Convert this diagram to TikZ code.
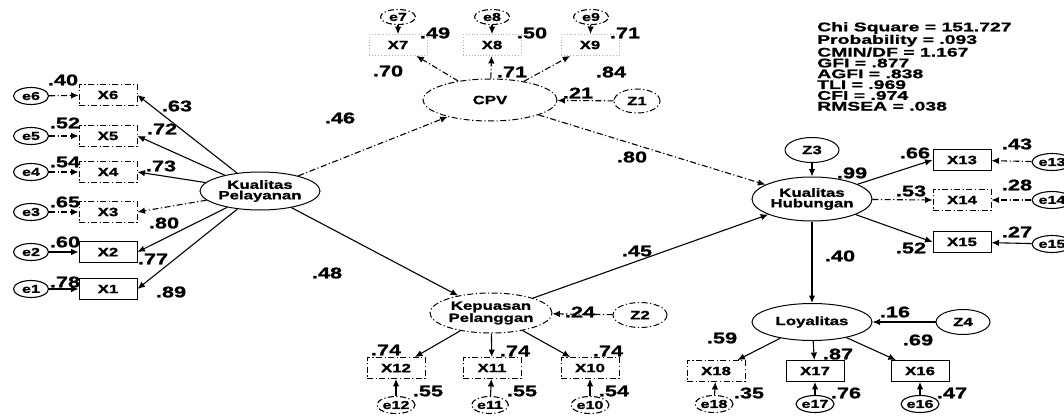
\documentclass[tikz,border=0pt]{standalone}
\usepackage{fontspec}
\setmainfont{Liberation Sans}[FakeStretch=1.4, BoldFeatures={FakeBold=1.2}]
\newfontfamily\statfont{Liberation Sans}[FakeStretch=1.55, BoldFeatures={FakeBold=1.2}]
\usetikzlibrary{arrows.meta,shapes.geometric}

\begin{document}
\begin{tikzpicture}[x=1pt,y=-1pt,
  every node/.style={inner sep=0pt},
  arr/.style={line width=1.1pt,-{Latex[length=7.5pt,width=6.5pt]}},
  faint/.style={dash pattern=on 6pt off 2.5pt on 1.2pt off 2.5pt},
  val/.style={font=\fontsize{15.5}{15.5}\selectfont\bfseries},
  obs/.style={draw,line width=0.9pt,minimum width=58pt,minimum height=21pt,
    font=\fontsize{12}{12}\selectfont\bfseries},
  lat/.style={draw,ellipse,line width=1pt,minimum width=120pt,minimum height=40pt,
    align=center,font=\fontsize{12}{10.5}\selectfont\bfseries},
  err/.style={draw,ellipse,line width=1.1pt,minimum width=35pt,minimum height=17pt,
    font=\fontsize{11.5}{11.5}\selectfont\bfseries},
  res/.style={draw,ellipse,line width=1pt,minimum width=54pt,minimum height=25pt,
    font=\fontsize{12}{12}\selectfont\bfseries},
]
\fill[white] (0,0) rectangle (1064,417);
\useasboundingbox (0,0) rectangle (1064,417);
\clip (0,0) rectangle (1064,417);

% ---------- Kualitas Pelayanan and its indicators ----------
\node[lat,minimum height=38pt] (KP) at (260,191) {Kualitas\\Pelayanan};

\node[obs,faint] (X6) at (108,95)  {X6};
\node[obs,faint] (X5) at (108,136) {X5};
\node[obs,faint] (X4) at (108,172) {X4};
\node[obs,faint] (X3) at (108,212) {X3};
\node[obs] (X2) at (108,252) {X2};
\node[obs] (X1) at (108,289) {X1};

\node[err] (e6) at (31,96)  {e6};
\node[err] (e5) at (31,136) {e5};
\node[err] (e4) at (31,172) {e4};
\node[err] (e3) at (31,212) {e3};
\node[err] (e2) at (31,252) {e2};
\node[err] (e1) at (31,289) {e1};

\draw[arr,faint] (e6) -- (X6);
\draw[arr,faint] (e5) -- (X5);
\draw[arr,faint] (e4) -- (X4);
\draw[arr,faint] (e3) -- (X3);
\draw[arr] (e2) -- (X2);
\draw[arr] (e1) -- (X1);

\draw[arr] (KP) -- (X6.east);
\draw[arr] (KP) -- (X5.east);
\draw[arr] (KP) -- (X4.east);
\draw[arr,faint] (KP) -- (X3.east);
\draw[arr] (KP) -- (X2.east);
\draw[arr] (KP) -- (X1.east);

\node[val] (v40) at (63,80)  {.40};
\node[val] (v52) at (65,123) {.52};
\node[val] (v54) at (65,162) {.54};
\node[val] (v65) at (65,202) {.65};
\node[val] (v60) at (65,242) {.60};
\node[val] (v78) at (65,282) {.78};

\node[val] (l63) at (177,106) {.63};
\node[val] (l72) at (162,129) {.72};
\node[val] (l73) at (161,166) {.73};
\node[val] (l80) at (164,223) {.80};
\node[val] (l77) at (153,259) {.77};
\node[val] (l89) at (171,292) {.89};

% ---------- CPV and its indicators ----------
\node[lat,faint,minimum width=134pt,minimum height=42pt] (CPV) at (490,100) {CPV};

\node[obs,draw=black!30,dotted] (X7) at (398,45) {X7};
\node[obs,draw=black!30,dotted] (X8) at (492,45) {X8};
\node[obs,draw=black!30,dotted] (X9) at (590,45) {X9};

\node[err,faint,minimum height=15pt] (e7) at (398,17) {e7};
\node[err,faint,minimum height=15pt] (e8) at (492,17) {e8};
\node[err,faint,minimum height=15pt] (e9) at (591,17) {e9};

\draw[arr] (e7) -- (X7);
\draw[arr] (e8) -- (X8);
\draw[arr] (e9) -- (X9);
\draw[arr,faint] (CPV) -- (X7);
\draw[arr,faint] (CPV) -- (X8);
\draw[arr,faint] (CPV) -- (X9);

\node[val] (v49) at (435,33) {.49};
\node[val] (v50) at (532,33) {.50};
\node[val] (v71) at (625,33) {.71};
\node[val] (l70) at (388,71) {.70};
\node[val] (l71) at (512,72) {.71};
\node[val] (l84) at (611,72) {.84};

\node[res,faint,minimum width=46pt,minimum height=24pt] (Z1) at (637,101) {Z1};
\draw[arr,faint] (Z1) -- (CPV);
\node[val] (v21) at (578,93) {.21};

% ---------- Kepuasan Pelanggan and its indicators ----------
\node[lat,faint,minimum width=122pt] (KeP) at (491,313) {Kepuasan\\Pelanggan};

\node[obs,faint] (X12) at (396,368) {X12};
\node[obs,faint] (X11) at (492,368) {X11};
\node[obs,faint] (X10) at (590,368) {X10};

\node[err,faint] (e12) at (396,405) {e12};
\node[err,faint] (e11) at (490,405) {e11};
\node[err,faint] (e10) at (590,405) {e10};

\draw[arr] (KeP) -- (X12);
\draw[arr] (KeP) -- (X11);
\draw[arr] (KeP) -- (X10);
\draw[arr] (e12) -- (X12);
\draw[arr] (e11) -- (X11);
\draw[arr] (e10) -- (X10);

\node[val] (l74a) at (386,350) {.74};
\node[val] (l74b) at (515,351) {.74};
\node[val] (l74c) at (608,351) {.74};
\node[val] (v55a) at (428,391) {.55};
\node[val] (v55b) at (522,391) {.55};
\node[val] (v54b) at (614,391) {.54};

\node[res,faint] (Z2) at (640,315) {Z2};
\draw[arr,faint] (Z2) -- (KeP);
\node[val] (v24) at (580,312) {.24};

% ---------- Kualitas Hubungan and its indicators ----------
\node[lat,minimum height=44pt] (KH) at (812,199) {Kualitas\\Hubungan};
\node[res] (Z3) at (812,150) {Z3};
\draw[arr] (Z3) -- (KH);
\node[val] (v99) at (852,173) {.99};

\node[obs] (X13) at (962,160) {X13};
\node[obs,faint] (X14) at (962,200) {X14};
\node[obs] (X15) at (962,242) {X15};

\node[err,minimum width=40pt] (e13) at (1052,162) {e13};
\node[err,minimum width=40pt] (e14) at (1052,200) {e14};
\node[err,minimum width=40pt] (e15) at (1052,244) {e15};

\draw[arr] (KH) -- (X13.west);
\draw[arr,faint] (KH) -- (X14.west);
\draw[arr] (KH) -- (X15.west);
\draw[arr,faint] (e13) -- (X13);
\draw[arr,faint] (e14) -- (X14);
\draw[arr] (e15) -- (X15);

\node[val] (l66) at (915,153) {.66};
\node[val] (l53) at (911,191) {.53};
\node[val] (l52) at (911,248) {.52};
\node[val] (v43) at (1017,144) {.43};
\node[val] (v28) at (1017,185) {.28};
\node[val] (v27) at (1017,232) {.27};

% ---------- Loyalitas and its indicators ----------
\node[lat,minimum height=37pt] (Loy) at (812,322) {Loyalitas};
\node[res] (Z4) at (963,322) {Z4};
\draw[arr] (Z4) -- (Loy);
\node[val] (v16) at (895,312) {.16};

\node[obs,faint] (X18) at (716,371) {X18};
\node[obs] (X17) at (815,371) {X17};
\node[obs] (X16) at (920,371) {X16};

\node[err,faint] (e18) at (714,404) {e18};
\node[err] (e17) at (815,404) {e17};
\node[err] (e16) at (920,404) {e16};

\draw[arr] (Loy) -- (X18);
\draw[arr] (Loy) -- (X17);
\draw[arr] (Loy) -- (X16);
\draw[arr] (e18) -- (X18);
\draw[arr] (e17) -- (X17);
\draw[arr] (e16) -- (X16);

\node[val] (l59) at (722,338) {.59};
\node[val] (l87) at (838,354) {.87};
\node[val] (l69) at (918,340) {.69};
\node[val] (v35) at (749,393) {.35};
\node[val] (v76) at (846,393) {.76};
\node[val] (v47) at (952,393) {.47};

% ---------- structural paths ----------
\draw[arr,faint] (KP) -- (CPV);
\draw[arr] (KP) -- (KeP);
\draw[arr,faint] (CPV) -- (KH);
\draw[arr] (KeP) -- (KH);
\draw[arr] (KH) -- (Loy);

\node[val] (p46) at (340,118) {.46};
\node[val] (p48) at (327,273) {.48};
\node[val] (p80) at (632,157) {.80};
\node[val] (p45) at (637,251) {.45};
\node[val] (p40) at (840,256) {.40};

% ---------- fit indices ----------
\node[anchor=north west,align=left,
  font=\statfont\bfseries\fontsize{12.5}{10.8}\selectfont] (fit) at (817,22)
  {Chi Square = 151.727\\Probability = .093\\CMIN/DF = 1.167\\GFI = .877\\
   AGFI = .838\\TLI = .969\\CFI = .974\\RMSEA = .038};
\end{tikzpicture}
\end{document}
